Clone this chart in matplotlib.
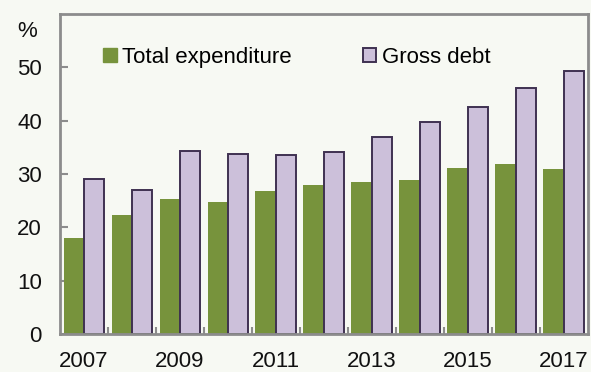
import numpy as np
import matplotlib
matplotlib.use("Agg")
import matplotlib.pyplot as plt
from matplotlib.patches import Patch

# ─── DATA ──────────────────────────────────────────────────────────────────────
years       = list(range(2007, 2018))
expenditure = [18.0, 22.3, 25.4, 24.8, 26.9, 28.0, 28.5, 28.8, 31.2, 31.9, 31.0]
gross_debt  = [29.0, 27.0, 34.3, 33.7, 33.6, 34.1, 36.9, 39.8, 42.6, 46.1, 49.3]
y_ticks     = [0, 10, 20, 30, 40, 50]
x_labels    = ["2007", "2009", "2011", "2013", "2015", "2017"]
# ───────────────────────────────────────────────────────────────────────────────

BG     = "#f7f9f3"
GREEN  = "#77933c"
PURPLE = "#ccc0da"
EDGE   = "#3f3151"
GREY   = "#8c8c8c"
FS     = 16

plt.rcParams["font.family"] = ["Liberation Sans", "DejaVu Sans"]

fig = plt.figure(figsize=(5.91, 3.72), dpi=100, facecolor=BG)
ax = fig.add_axes([0.1015, 0.102, 0.893, 0.860], facecolor=BG)

x = np.arange(len(years))
w = 0.42
ax.bar(x - 0.215, expenditure, width=w, color=GREEN, linewidth=0, zorder=2)
ax.bar(x + 0.215, gross_debt, width=w, color=PURPLE, edgecolor=EDGE,
       linewidth=1.4, zorder=2)

ax.set_xlim(-0.5, len(years) - 0.5)
ax.set_ylim(0, 60)

for s in ax.spines.values():
    s.set_color(GREY)
    s.set_linewidth(2)

ax.set_yticks(y_ticks)
ax.set_yticklabels([str(t) for t in y_ticks], fontsize=FS)
ax.tick_params(axis="y", direction="in", length=6, width=1.5, color=GREY,
               pad=13, labelcolor="#111111")

# group boundary ticks on the x axis, labels on every other year
ax.set_xticks(np.arange(0.5, len(years) - 1, 1.0))
ax.set_xticklabels([])
ax.tick_params(axis="x", direction="in", length=5, width=1.5, color=GREY)
for lab in x_labels:
    i = years.index(int(lab))
    ax.text(i, -6.2, lab, ha="center", va="baseline", fontsize=FS, color="#111111",
            clip_on=False)

fig.text(0.046, 0.915, "%", fontsize=FS, ha="center", va="center", color="#111111")

handles = [Patch(facecolor=GREEN, edgecolor=GREEN, label="Total expenditure"),
           Patch(facecolor=PURPLE, edgecolor=EDGE, linewidth=1.4, label="Gross debt")]
ax.legend(handles=handles, loc="upper left", bbox_to_anchor=(0.065, 0.925), ncol=2,
          frameon=False, fontsize=FS, handlelength=0.6, handleheight=0.6,
          handletextpad=0.25, columnspacing=3.2, borderaxespad=0)

fig.savefig("out.png", dpi=100, facecolor=BG)
